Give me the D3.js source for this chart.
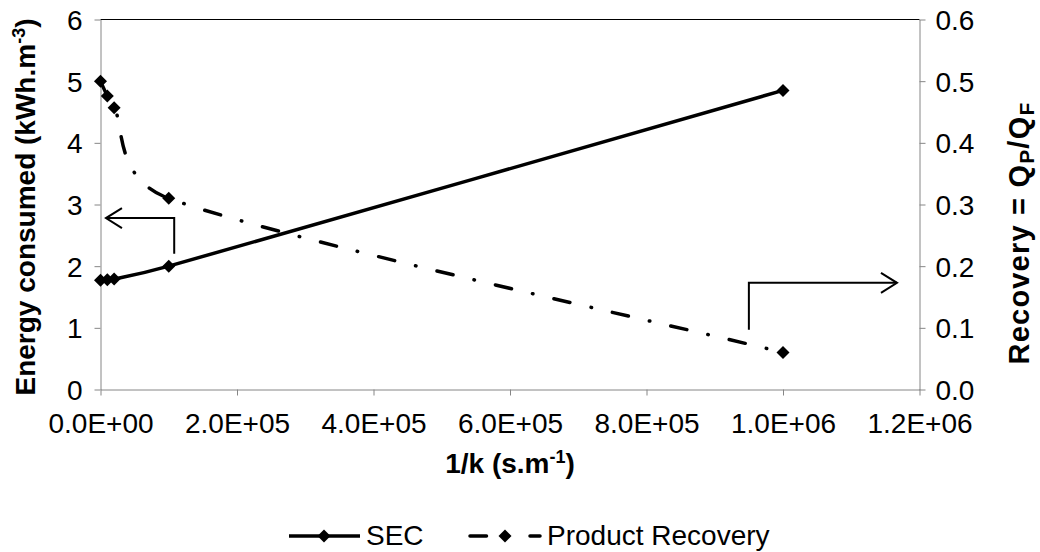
<!DOCTYPE html>
<html><head><meta charset="utf-8">
<script src="https://cdn.jsdelivr.net/npm/d3@7"></script>
<style>
body{margin:0;background:#fff}
text{font-family:"Liberation Sans",Arial,sans-serif}
</style>
</head><body>
<svg id="c" width="1040" height="552"></svg>
<script>
// ---- data ----
const invK = [0, 1e4, 2e4, 1e5, 1e6];
const sec = [1.77, 1.78, 1.79, 2.0, 4.85];
const recovery = [0.50, 0.476, 0.457, 0.31, 0.06];
const xTicks = [0, 2e5, 4e5, 6e5, 8e5, 1e6, 1.2e6];
const xTickLabels = ["0.0E+00","2.0E+05","4.0E+05","6.0E+05","8.0E+05","1.0E+06","1.2E+06"];
const yLeftTicks = [0,1,2,3,4,5,6];
const yLeftLabels = ["0","1","2","3","4","5","6"];
const yRightTicks = [0,0.1,0.2,0.3,0.4,0.5,0.6];
const yRightLabels = ["0.0","0.1","0.2","0.3","0.4","0.5","0.6"];
const seriesNames = ["SEC","Product Recovery"];
// annotation arrows (data coordinates on x and left axis)
const arrowLeft  = {x: 1.08e5, yFrom: 2.2, yTo: 2.78, xTip: 8e3, dir: -1};
const arrowRight = {x: 9.5e5, yFrom: 0.97, yTo: 1.73, xTip: 1.167e6, dir: 1};

// ---- layout ----
const svg = d3.select("#c");
const x = d3.scaleLinear().domain([0, 1.2e6]).range([100.5, 919.5]);
const yL = d3.scaleLinear().domain([0, 6]).range([389.5, 19.5]);
const yR = d3.scaleLinear().domain([0, 0.6]).range([389.5, 19.5]);
const axisColor = "#868686";
const FS = 28;

// top border
svg.append("line").attr("x1", x(0)).attr("x2", x(1.2e6)).attr("y1", yL(6)).attr("y2", yL(6))
  .attr("stroke", "#000").attr("stroke-width", 1);

function styleAxis(g) {
  g.select(".domain").attr("stroke", axisColor);
  g.selectAll(".tick line").attr("stroke", axisColor);
  g.selectAll(".tick text").attr("fill", "#000").attr("font-size", FS)
    .attr("font-family", '"Liberation Sans",Arial,sans-serif');
}

const gx = svg.append("g").attr("transform", `translate(0,${yL(0)})`)
  .call(d3.axisBottom(x).tickValues(xTicks).tickFormat((d, i) => xTickLabels[i]).tickSize(6).tickSizeOuter(0));
styleAxis(gx);
gx.selectAll(".tick text").attr("dy", null).attr("y", 43);

const gl = svg.append("g").attr("transform", `translate(${x(0)},0)`)
  .call(d3.axisLeft(yL).tickValues(yLeftTicks).tickFormat((d, i) => yLeftLabels[i]).tickSize(6).tickSizeOuter(0));
styleAxis(gl);
gl.selectAll(".tick text").attr("x", -18).attr("dy", "0.36em");

const gr = svg.append("g").attr("transform", `translate(${x(1.2e6)},0)`)
  .call(d3.axisRight(yR).tickValues(yRightTicks).tickFormat((d, i) => yRightLabels[i]).tickSize(6).tickSizeOuter(0));
styleAxis(gr);
gr.selectAll(".tick text").attr("x", 16).attr("dy", "0.36em");

// axis titles
const xt = svg.append("text").attr("x", (x(0) + x(1.2e6)) / 2).attr("y", 473)
  .attr("text-anchor", "middle").attr("font-size", FS).attr("font-weight", "bold");
xt.append("tspan").text("1/k (s.m");
xt.append("tspan").attr("font-size", 18).attr("dy", -10).text("-1");
xt.append("tspan").attr("dy", 10).text(")");

const ylt = svg.append("text").attr("transform", "translate(35,207) rotate(-90)")
  .attr("text-anchor", "middle").attr("font-size", FS).attr("font-weight", "bold");
ylt.append("tspan").text("Energy consumed (kWh.m");
ylt.append("tspan").attr("font-size", 18).attr("dy", -10).text("-3");
ylt.append("tspan").attr("dy", 10).text(")");

const yrt = svg.append("text").attr("transform", "translate(1029,233) rotate(-90)")
  .attr("text-anchor", "middle").attr("font-size", 29).attr("font-weight", "bold")
  .attr("letter-spacing", 1.2);
yrt.append("tspan").text("Recovery = Q");
yrt.append("tspan").attr("font-size", 21).attr("dy", 5).text("P");
yrt.append("tspan").attr("dy", -5).text("/Q");
yrt.append("tspan").attr("font-size", 21).attr("dy", 5).text("F");

// ---- series ----
// Excel-style smoothed line: cubic Bezier with arms (P[i+1]-P[i-1])/6,
// limited relative to the segment length.
function smoothPath(pts, limit) {
  let d = `M${pts[0][0]},${pts[0][1]}`;
  for (let i = 0; i < pts.length - 1; i++) {
    const p0 = pts[i - 1] || pts[i], p1 = pts[i], p2 = pts[i + 1], p3 = pts[i + 2] || pts[i + 1];
    const seg = Math.hypot(p2[0] - p1[0], p2[1] - p1[1]);
    const arm = (a, b) => {
      let tx = (b[0] - a[0]) / 6, ty = (b[1] - a[1]) / 6;
      const len = Math.hypot(tx, ty), mx = limit * seg;
      if (len > mx && len > 0) { tx *= mx / len; ty *= mx / len; }
      return [tx, ty];
    };
    const t1 = arm(p0, p2), t2 = arm(p1, p3);
    d += `C${p1[0] + t1[0]},${p1[1] + t1[1]} ${p2[0] - t2[0]},${p2[1] - t2[1]} ${p2[0]},${p2[1]}`;
  }
  return d;
}

const DASH = "16.5 21.5 0.5 21.5";
const LW = 3.5;
const recPts = invK.map((v, i) => [x(v), yR(recovery[i])]);
const secPts = invK.map((v, i) => [x(v), yL(sec[i])]);

svg.append("path")
  .attr("d", smoothPath(recPts, 0.55))
  .attr("fill", "none").attr("stroke", "#000").attr("stroke-width", LW)
  .attr("stroke-dasharray", DASH).attr("stroke-linecap", "round");

svg.append("path")
  .attr("d", smoothPath(secPts, 0.55))
  .attr("fill", "none").attr("stroke", "#000").attr("stroke-width", LW);

const diamond = "M0,-6.5L6.5,0L0,6.5L-6.5,0Z";
svg.append("g").selectAll("path").data(secPts).join("path")
  .attr("d", diamond).attr("transform", p => `translate(${p[0]},${p[1]})`).attr("fill", "#000");
svg.append("g").selectAll("path").data(recPts).join("path")
  .attr("d", diamond).attr("transform", p => `translate(${p[0]},${p[1]})`).attr("fill", "#000");

// ---- annotation arrows ----
[arrowLeft, arrowRight].forEach(a => {
  const ax = x(a.x), ay0 = yL(a.yFrom), ay1 = yL(a.yTo), tx = x(a.xTip);
  svg.append("path").attr("d", `M${ax},${ay0}V${ay1}H${tx}`)
    .attr("fill", "none").attr("stroke", "#000").attr("stroke-width", 2);
  const hx = tx - a.dir * 16;
  svg.append("path").attr("d", `M${hx},${ay1 - 10}L${tx},${ay1}L${hx},${ay1 + 10}`)
    .attr("fill", "none").attr("stroke", "#000").attr("stroke-width", 2);
});

// ---- legend ----
const ly = 536;
const lg = svg.append("g");
lg.append("line").attr("x1", 289).attr("x2", 360).attr("y1", ly).attr("y2", ly)
  .attr("stroke", "#000").attr("stroke-width", LW);
lg.append("path").attr("d", diamond).attr("transform", `translate(324,${ly})`).attr("fill", "#000");
lg.append("text").attr("x", 366).attr("y", 545).attr("font-size", FS).text(seriesNames[0]);
lg.append("line").attr("x1", 470).attr("x2", 540).attr("y1", ly).attr("y2", ly)
  .attr("stroke", "#000").attr("stroke-width", LW).attr("stroke-dasharray", DASH).attr("stroke-linecap", "round");
lg.append("path").attr("d", diamond).attr("transform", `translate(505,${ly})`).attr("fill", "#000");
lg.append("text").attr("x", 547).attr("y", 545).attr("font-size", FS).text(seriesNames[1]);
</script>
</body></html>
